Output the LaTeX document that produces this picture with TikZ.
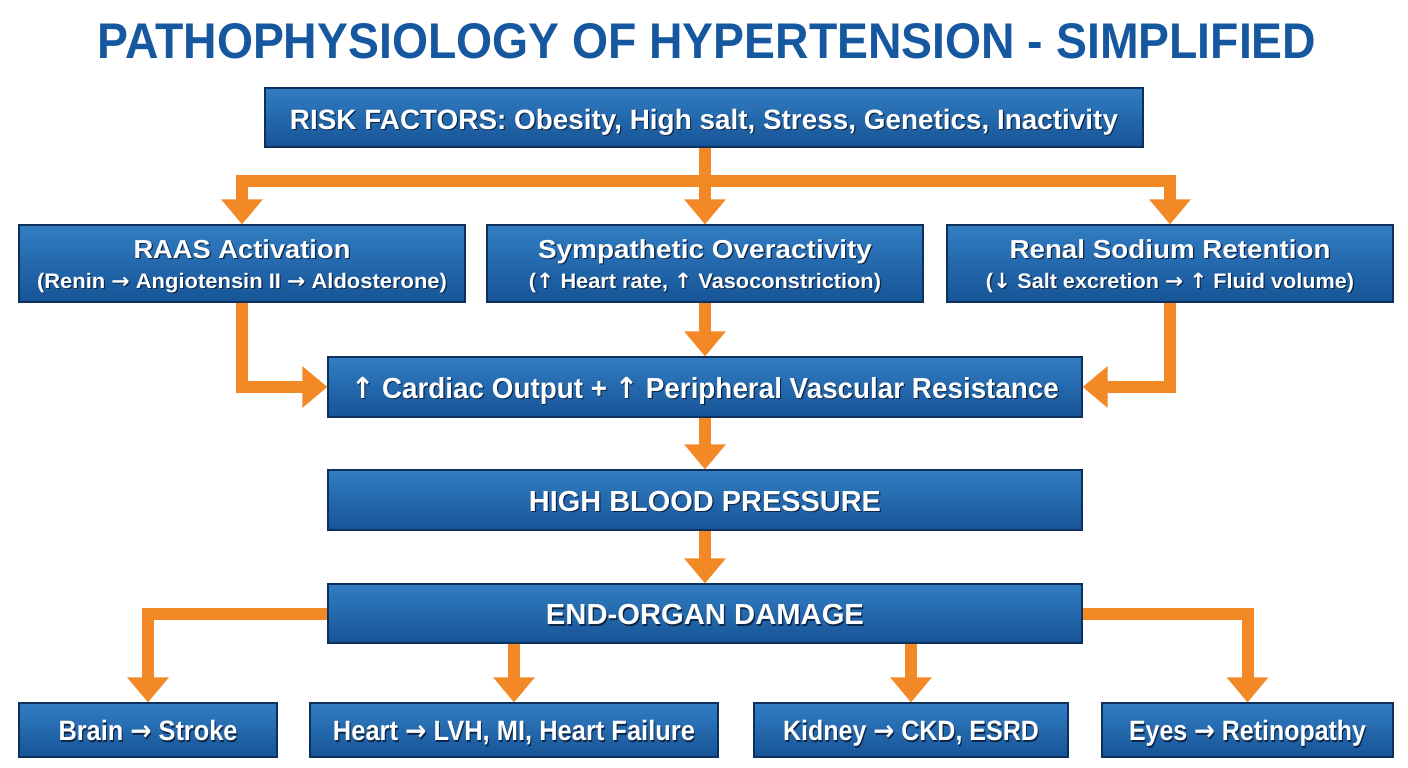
\documentclass[tikz,border=0pt]{standalone}
\usepackage{fontspec}
\setmainfont{Liberation Sans}
\newfontfamily\arrowfont{DejaVu Sans}
\usetikzlibrary{arrows.meta,positioning}
\definecolor{titleblue}{RGB}{22,88,160}
\definecolor{boxtop}{RGB}{50,125,195}
\definecolor{boxbot}{RGB}{22,84,150}
\definecolor{boxline}{RGB}{14,48,92}
\definecolor{flowor}{RGB}{242,137,38}
\definecolor{shadowc}{RGB}{12,38,72}
\newcommand\ra{{\arrowfont\bfseries →}}
\newcommand\ua{{\arrowfont\bfseries ↑}}
\newcommand\da{{\arrowfont\bfseries ↓}}
\newcommand\sht[1]{\leavevmode\rlap{\kern1.2pt\raisebox{-1.5pt}{\textcolor{shadowc}{#1}}}#1}
\newcommand\fitw[3]{\resizebox{#1}{\height}{\fontsize{#2}{#2}\selectfont\bfseries\sht{#3}}}
\tikzset{
  bluebox/.style={draw=boxline, line width=1.2pt, top color=boxtop, bottom color=boxbot,
    text=white, inner sep=0pt, align=center, rectangle},
  oneline/.style={text height=#1, text depth=0pt},
  twoline/.style={font=\fontsize{22}{30}\selectfont, text height=49pt, text depth=0pt},
  flow/.style={draw=flowor, line width=12pt, line join=miter,
    -{Triangle[width=40pt,length=25pt]}},
  plain/.style={draw=flowor, line width=12pt, line join=miter}
}
\begin{document}
\begin{tikzpicture}[x=1pt,y=-1pt]
\useasboundingbox (0,0) rectangle (1408,768);
\fill[white] (0,0) rectangle (1408,768);
\node[text=titleblue, inner sep=0pt] (title) at (707,41)
  {\resizebox{1218pt}{35pt}{\bfseries PATHOPHYSIOLOGY OF HYPERTENSION - SIMPLIFIED}};

\node[bluebox, oneline=23pt, minimum width=878pt, minimum height=59pt] (risk) at (704,117.5)
  {\fitw{828pt}{28}{RISK FACTORS: Obesity, High salt, Stress, Genetics, Inactivity}};

\node[bluebox, twoline, minimum width=446pt, minimum height=77pt] (raas) at (242,263.5)
  {\fitw{217pt}{26}{RAAS Activation}\\\fitw{410pt}{21}{(Renin \ra{} Angiotensin II \ra{} Aldosterone)}};
\node[bluebox, twoline, minimum width=436pt, minimum height=77pt] (symp) at (705,263.5)
  {\fitw{334pt}{26}{Sympathetic Overactivity}\\\fitw{352pt}{21}{(\ua{} Heart rate, \ua{} Vasoconstriction)}};
\node[bluebox, twoline, minimum width=446pt, minimum height=77pt] (renal) at (1170,263.5)
  {\fitw{321pt}{26}{Renal Sodium Retention}\\\fitw{368pt}{21}{(\da{} Salt excretion \ra{} \ua{} Fluid volume)}};

\node[bluebox, oneline=22pt, minimum width=754pt, minimum height=60pt] (cardiac) at (705,387)
  {\fitw{708pt}{29}{\ua{} Cardiac Output + \ua{} Peripheral Vascular Resistance}};
\node[bluebox, oneline=22pt, minimum width=754pt, minimum height=60pt] (hbp) at (705,500)
  {\fitw{352pt}{29}{HIGH BLOOD PRESSURE}};
\node[bluebox, oneline=22pt, minimum width=754pt, minimum height=59pt] (eod) at (705,613.5)
  {\fitw{318pt}{29}{END-ORGAN DAMAGE}};

\node[bluebox, oneline=21pt, minimum width=258pt, minimum height=54pt] (brain) at (148,730)
  {\fitw{179pt}{28}{Brain \ra{} Stroke}};
\node[bluebox, oneline=21pt, minimum width=408pt, minimum height=54pt] (heart) at (514,730)
  {\fitw{362pt}{28}{Heart \ra{} LVH, MI, Heart Failure}};
\node[bluebox, oneline=21pt, minimum width=314pt, minimum height=54pt] (kidney) at (911,730)
  {\fitw{256pt}{28}{Kidney \ra{} CKD, ESRD}};
\node[bluebox, oneline=21pt, minimum width=291pt, minimum height=54pt] (eyes) at (1247.5,730)
  {\fitw{237pt}{28}{Eyes \ra{} Retinopathy}};

% connectors
\coordinate (j) at (705,181);
\draw[plain] ([xshift=-6pt]raas.north |- j) -- ([xshift=6pt]renal.north |- j);
\draw[flow] (risk.south -| symp.north) -- (symp.north);
\draw[flow] ([yshift=-6pt]raas.north |- j) -- (raas.north);
\draw[flow] ([yshift=-6pt]renal.north |- j) -- (renal.north);

\draw[flow] (raas.south) |- (cardiac.west);
\draw[flow] (renal.south) |- (cardiac.east);
\draw[flow] (symp.south) -- (cardiac.north);
\draw[flow] (cardiac.south) -- (hbp.north);
\draw[flow] (hbp.south) -- (eod.north);

\draw[flow] (eod.west) -| (brain.north);
\draw[flow] (eod.east) -| (eyes.north);
\draw[flow] (eod.south -| heart.north) -- (heart.north);
\draw[flow] (eod.south -| kidney.north) -- (kidney.north);
\end{tikzpicture}
\end{document}
